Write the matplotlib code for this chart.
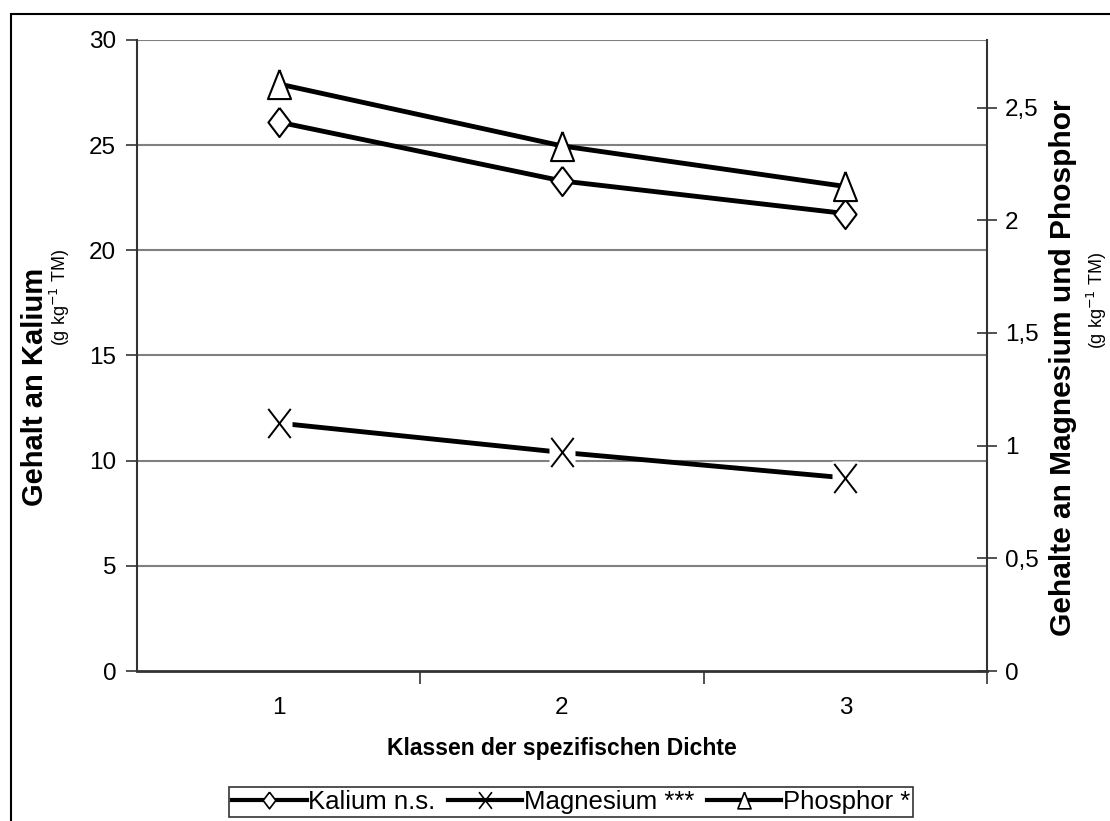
import numpy as np
import matplotlib
matplotlib.use('Agg')
import matplotlib.pyplot as plt
from matplotlib.lines import Line2D
from matplotlib.patches import Rectangle
from matplotlib.path import Path

plt.rcParams['font.family'] = ['Liberation Sans', 'DejaVu Sans']

# data
klassen = [1, 2, 3]
kalium = [26.1, 23.3, 21.75]          # left axis, g/kg
magnesium = [1.10, 0.97, 0.857]       # right axis, g/kg
phosphor = [2.605, 2.33, 2.15]        # right axis, g/kg

left_ticks = [0, 5, 10, 15, 20, 25, 30]
right_ticks = [0, 0.5, 1, 1.5, 2, 2.5]
right_labels = ['0', '0,5', '1', '1,5', '2', '2,5']
x_labels = ['1', '2', '3']
series_names = ['Kalium n.s.', 'Magnesium ***', 'Phosphor *']

# custom marker shapes (taller than wide, like the original)
diamond = [(0, 1), (0.76, 0), (0, -1), (-0.76, 0), (0, 1)]
triangle = [(0, 1), (0.79, -1), (-0.79, -1), (0, 1)]
cross_box = [(-0.8, -1), (0.8, -1), (0.8, 1), (-0.8, 1), (-0.8, -1)]
cross = Path([(-0.77, -1), (0.77, 1), (-0.77, 1), (0.77, -1)],
             [Path.MOVETO, Path.LINETO, Path.MOVETO, Path.LINETO])

fig = plt.figure(figsize=(11.1, 8.21), dpi=100)
ax = fig.add_axes([137 / 1110, 1 - 671 / 821, 850 / 1110, 631 / 821])
ax2 = ax.twinx()

ax.set_xlim(0.5, 3.5)
ax.set_ylim(0, 30)
ax2.set_ylim(0, 2.8)

# gridlines on the left scale
for v in left_ticks[1:]:
    ax.axhline(v, color='#808080', lw=1.5, zorder=0)

ax.plot(klassen, kalium, color='black', lw=3.5, marker=diamond, ms=21,
        mfc='white', mec='black', mew=1.5, zorder=3)
ax2.plot(klassen, phosphor, color='black', lw=3.5, marker=triangle, ms=21,
         mfc='white', mec='black', mew=1.5, zorder=3)
ax2.plot(klassen, magnesium, color='black', lw=3.5, zorder=3)
ax2.plot(klassen, magnesium, ls='none', marker=cross_box, ms=24,
         mfc='white', mec='none', zorder=4)
ax2.plot(klassen, magnesium, ls='none', marker=cross, ms=21,
         mfc='none', mec='black', mew=1.4, zorder=5)

# spines
for a in (ax, ax2):
    a.spines['top'].set_visible(False)
    a.patch.set_visible(False)
ax.spines['right'].set_visible(False)
ax2.spines['left'].set_visible(False)
ax2.spines['bottom'].set_visible(False)
ax.spines['left'].set_color('#333333')
ax.spines['bottom'].set_color('#333333')
ax2.spines['right'].set_color('#333333')
ax.spines['left'].set_linewidth(1.5)
ax.spines['bottom'].set_linewidth(2)
ax2.spines['right'].set_linewidth(1.5)

ax.set_yticks(left_ticks)
ax.set_yticklabels([str(v) for v in left_ticks])
ax2.set_yticks(right_ticks)
ax2.set_yticklabels(right_labels)
ax.set_xticks([1.5, 2.5, 3.5])
ax.set_xticklabels(['', '', ''])
ax.set_xticks(klassen, minor=True)
ax.set_xticklabels(x_labels, minor=True)

ax.tick_params(axis='y', direction='out', length=8, width=1.2, color='#333333',
               labelsize=17.5, pad=7)
ax2.tick_params(axis='y', direction='inout', length=14, width=1.2, color='#333333',
                labelsize=17.5, pad=6)
ax.tick_params(axis='x', which='major', direction='out', length=9, width=1.2,
               color='#333333')
ax.tick_params(axis='x', which='minor', length=0, labelsize=17.5, pad=19)

# axis titles
fig.text(35 / 1110, 1 - 387 / 821, 'Gehalt an Kalium', rotation=90,
         fontsize=21, fontweight='bold', ha='center', va='center')
fig.text(60 / 1110, 1 - 297 / 821, '(g kg$^{-1}$ TM)', rotation=90,
         fontsize=13, ha='center', va='center')
fig.text(1063 / 1110, 1 - 368 / 821, 'Gehalte an Magnesium und Phosphor',
         rotation=90, fontsize=21.5, fontweight='bold', ha='center', va='center')
fig.text(1097 / 1110, 1 - 300 / 821, '(g kg$^{-1}$ TM)', rotation=90,
         fontsize=13, ha='center', va='center')
fig.text(562 / 1110, 1 - 748 / 821, 'Klassen der spezifischen Dichte',
         fontsize=16.5, fontweight='bold', ha='center', va='center')

# legend
handles = [
    Line2D([], [], color='black', lw=3, marker=diamond, ms=12, mfc='white',
           mec='black', mew=1.2),
    Line2D([], [], color='black', lw=3, marker=cross, ms=12, mfc='none',
           mec='black', mew=1.2),
    Line2D([], [], color='black', lw=3, marker=triangle, ms=12, mfc='white',
           mec='black', mew=1.2),
]
leg = fig.legend(handles, series_names,
                 loc='center', bbox_to_anchor=(571 / 1110, 1 - 802 / 821),
                 ncol=3, fontsize=18.5, frameon=True, fancybox=False,
                 edgecolor='black', handlelength=2.9, handletextpad=0.05,
                 columnspacing=0.5, borderpad=0.12, borderaxespad=0)
leg.get_frame().set_linewidth(1.2)

# outer chart border
fig.patches.append(Rectangle((11 / 1110, -0.05), 1.2, 1 - 14 / 821 + 0.05,
                             transform=fig.transFigure, fill=False,
                             edgecolor='black', lw=1.5))

fig.savefig('out.png', dpi=100)
